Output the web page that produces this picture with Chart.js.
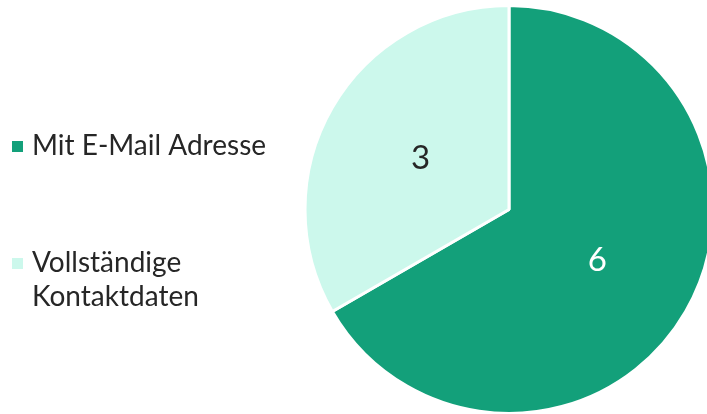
<!DOCTYPE html>
<html>
<head>
<meta charset="utf-8">
<script src="https://cdn.jsdelivr.net/npm/chart.js@4"></script>
<style>
  html, body { margin: 0; padding: 0; background: #ffffff; overflow: hidden; }
  #wrap { width: 707px; height: 414px; }
</style>
</head>
<body>
<div id="wrap"><canvas id="pieChart" width="707" height="414"></canvas></div>
<script>
// chart data
const categories = ["Mit E-Mail Adresse", ["Vollständige", "Kontaktdaten"]];
const counts = [6, 3];
const sliceColors = ["#13a07a", "#ccf8ec"];
const labelColors = ["#ffffff", "#262626"];

const FONT = "Lato, 'DejaVu Sans', sans-serif";

// legend drawn on the left side, items far apart like the original
const sideLegend = {
  id: "sideLegend",
  afterDraw(chart) {
    const ctx = chart.ctx;
    const itemTops = [155, 272];
    const lineHeight = 34;
    ctx.save();
    ctx.font = "28px " + FONT;
    ctx.textAlign = "left";
    ctx.textBaseline = "alphabetic";
    chart.data.labels.forEach((label, i) => {
      const lines = Array.isArray(label) ? label : [label];
      const base = itemTops[i];
      ctx.fillStyle = chart.data.datasets[0].backgroundColor[i];
      ctx.fillRect(12, base - 14, 11, 11);
      ctx.fillStyle = "#262626";
      lines.forEach((line, j) => ctx.fillText(line, 32, base + j * lineHeight));
    });
    ctx.restore();
  }
};

// value labels in the middle of each slice
const sliceValues = {
  id: "sliceValues",
  afterDatasetsDraw(chart) {
    const ctx = chart.ctx;
    const meta = chart.getDatasetMeta(0);
    ctx.save();
    ctx.font = "33px " + FONT;
    ctx.textAlign = "center";
    ctx.textBaseline = "middle";
    meta.data.forEach((arc, i) => {
      const pos = arc.tooltipPosition();
      ctx.fillStyle = labelColors[i];
      ctx.fillText(String(chart.data.datasets[0].data[i]), pos.x, pos.y);
    });
    ctx.restore();
  }
};

new Chart(document.getElementById("pieChart"), {
  type: "pie",
  data: {
    labels: categories,
    datasets: [{
      data: counts,
      backgroundColor: sliceColors,
      borderColor: "#ffffff",
      borderWidth: 3,
      hoverOffset: 0,
      radius: 204
    }]
  },
  options: {
    responsive: false,
    animation: false,
    layout: { padding: { left: 311, right: 0, top: 5, bottom: 0 } },
    plugins: {
      legend: { display: false },
      tooltip: { enabled: true }
    }
  },
  plugins: [sideLegend, sliceValues]
});
</script>
</body>
</html>
